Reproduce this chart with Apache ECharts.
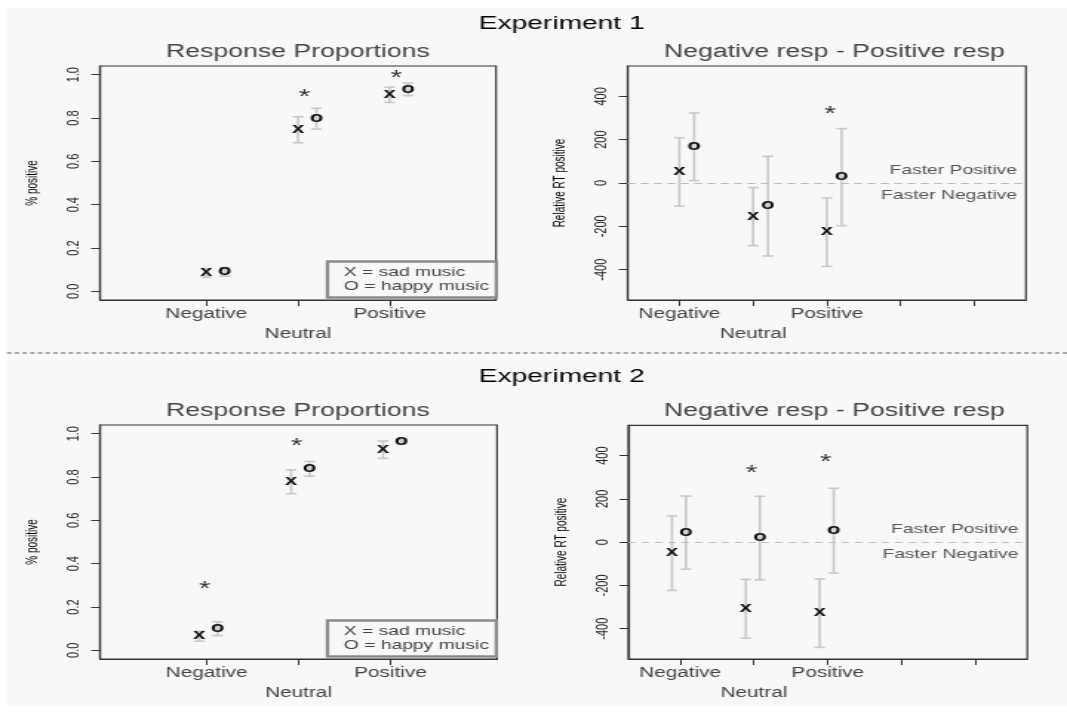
<!DOCTYPE html>
<html>
<head>
<meta charset="utf-8">
<script src="https://cdn.jsdelivr.net/npm/echarts@6/dist/echarts.min.js"></script>
<style>
html,body{margin:0;padding:0;background:#fff;overflow:hidden;}
#wrap{width:1067px;height:717px;position:relative;overflow:hidden;}
#chart{width:720px;height:717px;transform:scaleX(1.481944);transform-origin:0 0;}
</style>
</head>
<body>
<div id="wrap"><div id="chart"></div></div>
<script>
// ---------- data ----------
const categories = ['Negative', 'Neutral', 'Positive'];

// Experiment 1 - response proportions (% positive)
const e1PropSad = [0.085, 0.746, 0.907];
const e1PropSadErr = [0.02, 0.06, 0.035];
const e1PropHappy = [0.09, 0.797, 0.932];
const e1PropHappyErr = [0.02, 0.048, 0.029];
const e1PropStars = [null, 0.918, 1.006];

// Experiment 1 - Negative resp - Positive resp (relative RT)
const e1RtSad = [51, -155, -227];
const e1RtSadErr = [158, 134, 158];
const e1RtHappy = [167, -107, 27];
const e1RtHappyErr = [156, 230, 224];
const e1RtStars = [null, null, 341];

// Experiment 2 - response proportions
const e2PropSad = [0.065, 0.778, 0.926];
const e2PropSadErr = [0.023, 0.055, 0.04];
const e2PropHappy = [0.1, 0.838, 0.963];
const e2PropHappyErr = [0.032, 0.034, 0.01];
const e2PropStars = [0.302, 0.966, null];

// Experiment 2 - relative RT
const e2RtSad = [-51, -308, -328];
const e2RtSadErr = [172, 136, 158];
const e2RtHappy = [44, 19, 53];
const e2RtHappyErr = [169, 193, 196];
const e2RtStars = [null, 339, 392];

const propTicks = [0, 0.2, 0.4, 0.6, 0.8, 1.0];
const rtTicks = [-400, -200, 0, 200, 400];

const experimentTitles = ['Experiment 1', 'Experiment 2'];
const panelTitles = ['Response Proportions', 'Negative resp - Positive resp'];
const yNames = ['% positive', 'Relative RT positive'];
const legendNames = ['sad music', 'happy music'];
const zoneLabels = ['Faster Positive', 'Faster Negative'];

// ---------- layout ----------
const FONT = '"Liberation Sans", Arial, Helvetica, sans-serif';
const panels = [
  {grid:{left:67.5, top:66, width:267.2, height:234}, xr:[-0.16,4.16], xt:[1,2,3], yr:[-0.04,1.04], yt:propTicks, fmt:v=>v.toFixed(1), yname:yNames[0],
   sad:e1PropSad, sadE:e1PropSadErr, hap:e1PropHappy, hapE:e1PropHappyErr, star:e1PropStars, off:[0,0.2,0.07], legend:true, zero:false},
  {grid:{left:423.6, top:66, width:268.7, height:234}, xr:[0.3,5.7], xt:[1,2,3,4,5], yr:[-540,540], yt:rtTicks, fmt:v=>String(v), yname:yNames[1],
   sad:e1RtSad, sadE:e1RtSadErr, hap:e1RtHappy, hapE:e1RtHappyErr, star:e1RtStars, off:[0,0.2,0.045], legend:false, zero:true},
  {grid:{left:67.5, top:425, width:267.9, height:234}, xr:[-0.16,4.16], xt:[1,2,3], yr:[-0.04,1.04], yt:propTicks, fmt:v=>v.toFixed(1), yname:yNames[0],
   sad:e2PropSad, sadE:e2PropSadErr, hap:e2PropHappy, hapE:e2PropHappyErr, star:e2PropStars, off:[-0.08,0.12,-0.02], legend:true, zero:false},
  {grid:{left:424, top:425.3, width:269.2, height:233.7}, xr:[0.3,5.7], xt:[1,2,3,4,5], yr:[-540,540], yt:rtTicks, fmt:v=>String(v), yname:yNames[1],
   sad:e2RtSad, sadE:e2RtSadErr, hap:e2RtHappy, hapE:e2RtHappyErr, star:e2RtStars, off:[-0.11,0.08,-0.03], legend:false, zero:true}
];

function errRender(params, api) {
  const x = api.value(0), m = api.value(1), e = api.value(2);
  const t = api.coord([x, m + e]), b = api.coord([x, m - e]);
  const c = 3.6;
  const st = {stroke:'#c8c8c8', lineWidth:1.6};
  return {type:'group', children:[
    {type:'line', shape:{x1:t[0], y1:t[1], x2:b[0], y2:b[1]}, style:st},
    {type:'line', shape:{x1:t[0]-c, y1:t[1], x2:t[0]+c, y2:t[1]}, style:st},
    {type:'line', shape:{x1:b[0]-c, y1:b[1], x2:b[0]+c, y2:b[1]}, style:st}
  ]};
}
function glyph(ch, size, weight, color, dy) {
  return function(params, api) {
    const p = api.coord([api.value(0), api.value(1)]);
    return {type:'text', x:p[0], y:p[1] + dy,
      style:{text:ch, fontSize:size, fontWeight:weight, fontFamily:FONT, fill:color, align:'center', verticalAlign:'middle'}};
  };
}

const grids = [], xAxes = [], yAxes = [], series = [], legends = [];
const extraX = [];
panels.forEach((p, k) => {
  grids.push(Object.assign({show:true, borderColor:'#333', borderWidth:1.2, backgroundColor:'transparent', containLabel:false}, p.grid));
  xAxes.push({type:'value', gridIndex:k, min:p.xr[0], max:p.xr[1], position:'bottom',
    splitLine:{show:false}, axisLine:{show:true, onZero:false, lineStyle:{color:'#333', width:1.2}},
    axisTick:{show:true, customValues:p.xt, length:6, lineStyle:{color:'#333', width:1}},
    axisLabel:{customValues:[1,3], margin:7, fontSize:14, color:'#444', fontFamily:FONT,
      showMinLabel:true, showMaxLabel:true, hideOverlap:false,
      formatter:v => categories[Math.round(v) - 1]}});
  // second label row: middle category
  extraX.push({type:'value', gridIndex:k, min:p.xr[0], max:p.xr[1], position:'bottom', offset:20,
    splitLine:{show:false}, axisLine:{show:false, onZero:false}, axisTick:{show:false},
    axisLabel:{customValues:[2], margin:7, fontSize:14, color:'#444', fontFamily:FONT,
      showMinLabel:true, showMaxLabel:true, formatter:() => categories[1]}});
  yAxes.push({type:'value', gridIndex:k, min:p.yr[0], max:p.yr[1], position:'left',
    splitLine:{show:false}, axisLine:{show:true, onZero:false, lineStyle:{color:'#333', width:1.2}},
    axisTick:{show:true, customValues:p.yt, length:6, lineStyle:{color:'#333', width:1}},
    axisLabel:{customValues:p.yt, rotate:90, margin:12, fontSize:11, color:'#222', fontFamily:FONT, formatter:p.fmt,
      showMinLabel:true, showMaxLabel:true},
    name:p.yname, nameLocation:'middle', nameGap:40, nameRotate:90,
    nameTextStyle:{fontSize:10, color:'#000', fontFamily:FONT}});

  const sadErr = categories.map((c, i) => [i + 1 + p.off[0], p.sad[i], p.sadE[i]]);
  const hapErr = categories.map((c, i) => [i + 1 + p.off[1], p.hap[i], p.hapE[i]]);
  const stars = [];
  p.star.forEach((v, i) => { if (v !== null) stars.push([i + 1 + p.off[2], v]); });

  series.push({type:'custom', name:'err-sad-' + k, xAxisIndex:k, yAxisIndex:k, clip:false, silent:true,
    encode:{x:0, y:1}, renderItem:errRender, data:sadErr, z:2});
  series.push({type:'custom', name:'err-happy-' + k, xAxisIndex:k, yAxisIndex:k, clip:false, silent:true,
    encode:{x:0, y:1}, renderItem:errRender, data:hapErr, z:2});
  if (p.zero) {
    series.push({type:'line', name:'zero-' + k, xAxisIndex:k, yAxisIndex:k, data:[], silent:true,
      markLine:{silent:true, symbol:['none','none'], animation:false,
        lineStyle:{color:'#bdbdbd', type:[5,4], width:1},
        data:[
          {yAxis:0, label:{show:true, position:'insideEndTop', formatter:zoneLabels[0], color:'#555', fontSize:13, fontFamily:FONT, distance:6}},
          {yAxis:0, label:{show:true, position:'insideEndBottom', formatter:zoneLabels[1], color:'#555', fontSize:13, fontFamily:FONT, distance:6}}
        ]}});
  }
  series.push({type:'custom', name:legendNames[0], xAxisIndex:k, yAxisIndex:k, clip:false,
    encode:{x:0, y:1}, renderItem:glyph('x', 15, 'bold', '#111', -1), data:sadErr.map(d => [d[0], d[1]]), z:5});
  series.push({type:'custom', name:legendNames[1], xAxisIndex:k, yAxisIndex:k, clip:false,
    encode:{x:0, y:1}, renderItem:glyph('o', 15, 'bold', '#111', -1), data:hapErr.map(d => [d[0], d[1]]), z:5});
  series.push({type:'custom', name:'significant-' + k, xAxisIndex:k, yAxisIndex:k, clip:false,
    encode:{x:0, y:1}, renderItem:glyph('*', 20, 'normal', '#333', 5), data:stars, z:5});

  if (p.legend) {
    legends.push({data:legendNames, orient:'vertical', left:p.grid.left + 153.5, top:p.grid.top + 195.5,
      icon:'none', itemWidth:1, itemHeight:14, itemGap:0, padding:[4,5,4,5], selectedMode:false,
      borderColor:'#8a8a8a', borderWidth:2.3, backgroundColor:'transparent',
      formatter:n => (n === legendNames[0] ? 'X = ' : 'O = ') + n,
      textStyle:{fontSize:13, color:'#444', fontFamily:FONT, lineHeight:14}});
  }
});

const graphic = [
  {type:'rect', z:-10, silent:true, shape:{x:4.7, y:8, width:720, height:699}, style:{fill:'#f8f8f8'}},
  {type:'line', silent:true, shape:{x1:4.7, y1:353, x2:720, y2:353}, style:{stroke:'#8c8c8c', lineWidth:1.3, lineDash:[3,2.2]}},
  {type:'text', x:379, y:24, style:{text:experimentTitles[0], fontSize:19, fontFamily:FONT, fill:'#000', align:'center', verticalAlign:'middle'}},
  {type:'text', x:379, y:377, style:{text:experimentTitles[1], fontSize:19, fontFamily:FONT, fill:'#000', align:'center', verticalAlign:'middle'}},
  {type:'text', x:201, y:52, style:{text:panelTitles[0], fontSize:18, fontFamily:FONT, fill:'#444', align:'center', verticalAlign:'middle'}},
  {type:'text', x:563, y:52, style:{text:panelTitles[1], fontSize:18, fontFamily:FONT, fill:'#444', align:'center', verticalAlign:'middle'}},
  {type:'text', x:201, y:411.5, style:{text:panelTitles[0], fontSize:18, fontFamily:FONT, fill:'#444', align:'center', verticalAlign:'middle'}},
  {type:'text', x:563, y:411.5, style:{text:panelTitles[1], fontSize:18, fontFamily:FONT, fill:'#444', align:'center', verticalAlign:'middle'}}
];

const chart = echarts.init(document.getElementById('chart'), null, {renderer:'canvas'});
chart.setOption({
  animation:false,
  backgroundColor:'transparent',
  textStyle:{fontFamily:FONT},
  grid:grids, xAxis:xAxes.concat(extraX), yAxis:yAxes, series:series, legend:legends, graphic:graphic
});
</script>
</body>
</html>
